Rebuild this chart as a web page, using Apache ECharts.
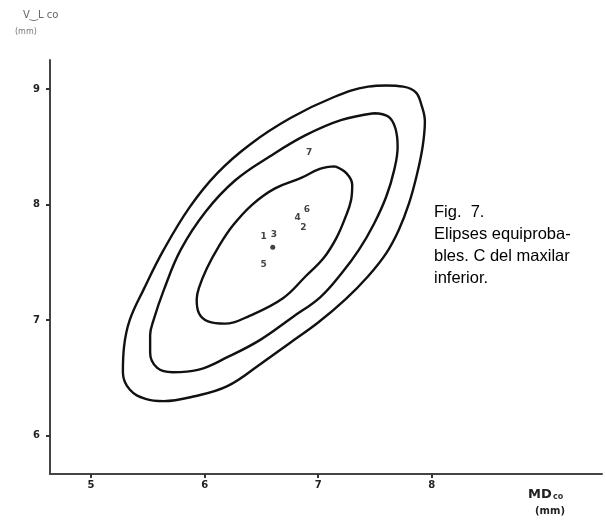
<!DOCTYPE html>
<html>
<head>
<meta charset="utf-8">
<script src="https://cdn.jsdelivr.net/npm/echarts@6/dist/echarts.min.js"></script>
<style>html,body{margin:0;padding:0;background:#fff;}#c{width:606px;height:526px;}</style>
</head>
<body>
<div id="c"></div>
<script>
// Tick labels
const xTicks = [5, 6, 7, 8];
const yTicks = [6, 7, 8, 9];

// Equiprobable contours (MD co, VL co)
const outerContour = [
  [7.60,9.03],[7.75,9.02],[7.86,8.97],[7.91,8.86],[7.94,8.72],[7.92,8.50],[7.87,8.26],
  [7.80,8.01],[7.71,7.78],[7.60,7.58],[7.44,7.38],[7.24,7.18],[7.00,6.98],[6.76,6.81],
  [6.49,6.62],[6.20,6.43],[5.90,6.34],[5.64,6.30],[5.48,6.32],[5.34,6.40],[5.28,6.55],
  [5.29,6.77],[5.34,7.00],[5.46,7.26],[5.64,7.61],[5.87,7.98],[6.11,8.27],[6.40,8.52],
  [6.76,8.75],[7.14,8.93],[7.44,9.02],[7.60,9.03]
];
const middleContour = [
  [7.49,8.79],[7.62,8.76],[7.68,8.66],[7.70,8.50],[7.67,8.30],[7.60,8.07],[7.49,7.83],
  [7.36,7.61],[7.21,7.41],[7.02,7.20],[6.78,7.03],[6.49,6.83],[6.20,6.68],[5.94,6.57],
  [5.72,6.55],[5.58,6.59],[5.52,6.72],[5.52,6.87],[5.55,7.00],[5.64,7.26],[5.79,7.61],
  [6.01,7.94],[6.27,8.21],[6.58,8.42],[6.89,8.60],[7.20,8.73],[7.49,8.79]
];
const innerContour = [
  [7.15,8.33],[7.25,8.27],[7.30,8.17],[7.29,8.04],[7.24,7.89],[7.16,7.71],[7.05,7.54],
  [6.89,7.38],[6.69,7.19],[6.40,7.04],[6.18,6.97],[6.03,6.99],[5.95,7.06],[5.93,7.18],
  [5.95,7.28],[6.02,7.45],[6.12,7.63],[6.25,7.82],[6.42,8.00],[6.62,8.14],[6.85,8.23],
  [7.02,8.31],[7.15,8.33]
];

// Numbered points and mean
const pointLabels = ['1', '2', '3', '4', '5', '6', '7'];
const pointX = [6.52, 6.87, 6.61, 6.82, 6.52, 6.90, 6.92];
const pointY = [7.72, 7.80, 7.74, 7.89, 7.48, 7.96, 8.45];
const meanPoint = [6.60, 7.63];

const chart = echarts.init(document.getElementById('c'), null, {renderer: 'canvas'});

const contourStyle = {color: '#111', width: 2.4};
function contour(d) {
  return {
    type: 'line', data: d, smooth: 0.4, showSymbol: false, silent: true,
    lineStyle: contourStyle, z: 3
  };
}

chart.setOption({
  animation: false,
  backgroundColor: '#fff',
  grid: {left: 50, right: 4, top: 60, bottom: 52, containLabel: false},
  xAxis: {
    type: 'value', min: 4.638, max: 9.5,
    axisLine: {show: true, lineStyle: {color: '#444', width: 2}},
    axisTick: {show: true, inside: false, length: 4, lineStyle: {color: '#333', width: 2}, customValues: xTicks},
    axisLabel: {show: true, customValues: xTicks, color: '#222', fontFamily: 'DejaVu Sans', fontWeight: 'bold', fontSize: 10, margin: 6},
    splitLine: {show: false}
  },
  yAxis: {
    type: 'value', min: 5.67, max: 9.25,
    axisLine: {show: true, lineStyle: {color: '#444', width: 2}},
    axisTick: {show: true, inside: false, length: 4, lineStyle: {color: '#333', width: 2}, customValues: yTicks},
    axisLabel: {show: true, customValues: yTicks, color: '#222', fontFamily: 'DejaVu Sans', fontWeight: 'bold', fontSize: 10, margin: 10},
    splitLine: {show: false}
  },
  series: [
    contour(outerContour),
    contour(middleContour),
    contour(innerContour),
    {
      type: 'scatter', symbolSize: 0, silent: true, z: 4,
      data: pointX.map((x, i) => ({value: [x, pointY[i]], name: pointLabels[i]})),
      label: {show: true, position: 'inside', formatter: p => p.name, color: '#111',
              fontFamily: 'DejaVu Sans', fontWeight: 'bold', fontSize: 9}
    },
    {
      type: 'scatter', symbol: 'circle', symbolSize: 5, silent: true, z: 4,
      itemStyle: {color: '#111'}, data: [meanPoint]
    }
  ],
  graphic: [
    {type: 'text', left: 23, top: 10, style: {text: 'V\u203fL co', font: '10px "DejaVu Sans"', fill: '#666'}},
    {type: 'text', left: 15, top: 28, style: {text: '(mm)', font: '8px "DejaVu Sans"', fill: '#777'}},
    {type: 'text', left: 528, top: 488, style: {text: 'MD', font: 'bold 13px "DejaVu Sans"', fill: '#222'}},
    {type: 'text', left: 553, top: 493, style: {text: 'co', font: 'bold 8px "DejaVu Sans"', fill: '#333'}},
    {type: 'text', left: 535, top: 506, style: {text: '(mm)', font: 'bold 10px "DejaVu Sans"', fill: '#222'}},
    {type: 'text', left: 434, top: 201, style: {
      text: 'Fig.  7.\nElipses equiproba-\nbles. C del maxilar\ninferior.',
      font: '16.5px "Liberation Sans"', fill: '#000', lineHeight: 22}}
  ]
});
</script>
</body>
</html>
